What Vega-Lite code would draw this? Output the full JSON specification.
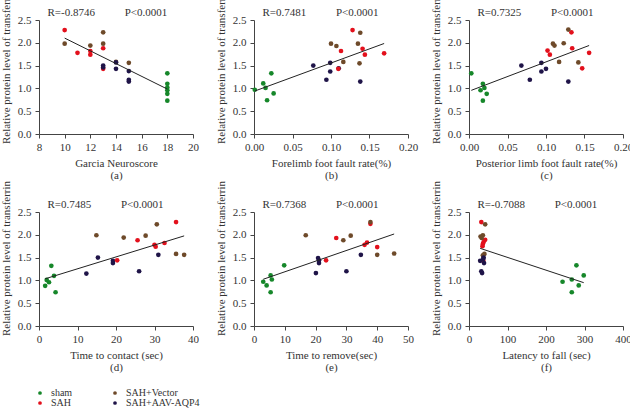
{
  "$schema": "https://vega.github.io/schema/vega-lite/v6.json",
  "padding": {"left": 0, "top": -12, "right": 0, "bottom": 0},
  "background": "white",
  "datasets": {
    "a": [
      {"g": "SAH", "x": 10, "y": 2.28}, {"g": "SAH", "x": 11, "y": 1.78}, {"g": "SAH", "x": 12, "y": 1.82}, {"g": "SAH", "x": 12, "y": 1.74}, {"g": "SAH", "x": 13, "y": 1.88}, {"g": "SAH", "x": 13, "y": 1.43},
      {"g": "SAH+Vector", "x": 10, "y": 1.98}, {"g": "SAH+Vector", "x": 12, "y": 1.94}, {"g": "SAH+Vector", "x": 13, "y": 2.23}, {"g": "SAH+Vector", "x": 13, "y": 1.98}, {"g": "SAH+Vector", "x": 14, "y": 1.58}, {"g": "SAH+Vector", "x": 15, "y": 1.56},
      {"g": "SAH+AAV-AQP4", "x": 13, "y": 1.50}, {"g": "SAH+AAV-AQP4", "x": 13, "y": 1.46}, {"g": "SAH+AAV-AQP4", "x": 14, "y": 1.57}, {"g": "SAH+AAV-AQP4", "x": 14, "y": 1.43}, {"g": "SAH+AAV-AQP4", "x": 15, "y": 1.38}, {"g": "SAH+AAV-AQP4", "x": 15, "y": 1.19}, {"g": "SAH+AAV-AQP4", "x": 15, "y": 1.15},
      {"g": "sham", "x": 18, "y": 1.33}, {"g": "sham", "x": 18, "y": 1.10}, {"g": "sham", "x": 18, "y": 1.02}, {"g": "sham", "x": 18, "y": 0.96}, {"g": "sham", "x": 18, "y": 0.88}, {"g": "sham", "x": 18, "y": 0.73}
    ],
    "b": [
      {"g": "sham", "x": 0.001, "y": 0.97}, {"g": "sham", "x": 0.012, "y": 1.11}, {"g": "sham", "x": 0.015, "y": 1.01}, {"g": "sham", "x": 0.017, "y": 0.74}, {"g": "sham", "x": 0.0225, "y": 1.33}, {"g": "sham", "x": 0.0255, "y": 0.89},
      {"g": "SAH+AAV-AQP4", "x": 0.077, "y": 1.50}, {"g": "SAH+AAV-AQP4", "x": 0.094, "y": 1.19}, {"g": "SAH+AAV-AQP4", "x": 0.099, "y": 1.56}, {"g": "SAH+AAV-AQP4", "x": 0.099, "y": 1.37}, {"g": "SAH+AAV-AQP4", "x": 0.110, "y": 1.44}, {"g": "SAH+AAV-AQP4", "x": 0.138, "y": 1.15},
      {"g": "SAH", "x": 0.128, "y": 2.28}, {"g": "SAH", "x": 0.113, "y": 1.82}, {"g": "SAH", "x": 0.1095, "y": 1.43}, {"g": "SAH", "x": 0.141, "y": 1.87}, {"g": "SAH", "x": 0.144, "y": 1.74}, {"g": "SAH", "x": 0.169, "y": 1.77},
      {"g": "SAH+Vector", "x": 0.100, "y": 1.98}, {"g": "SAH+Vector", "x": 0.107, "y": 1.93}, {"g": "SAH+Vector", "x": 0.116, "y": 1.58}, {"g": "SAH+Vector", "x": 0.135, "y": 1.98}, {"g": "SAH+Vector", "x": 0.138, "y": 2.22}, {"g": "SAH+Vector", "x": 0.137, "y": 1.55}
    ],
    "c": [
      {"g": "sham", "x": 0.003, "y": 1.33}, {"g": "sham", "x": 0.015, "y": 0.96}, {"g": "sham", "x": 0.018, "y": 1.10}, {"g": "sham", "x": 0.018, "y": 0.73}, {"g": "sham", "x": 0.020, "y": 1.01}, {"g": "sham", "x": 0.023, "y": 0.88},
      {"g": "SAH+AAV-AQP4", "x": 0.068, "y": 1.50}, {"g": "SAH+AAV-AQP4", "x": 0.079, "y": 1.19}, {"g": "SAH+AAV-AQP4", "x": 0.094, "y": 1.56}, {"g": "SAH+AAV-AQP4", "x": 0.094, "y": 1.37}, {"g": "SAH+AAV-AQP4", "x": 0.100, "y": 1.43}, {"g": "SAH+AAV-AQP4", "x": 0.129, "y": 1.15},
      {"g": "SAH", "x": 0.102, "y": 1.83}, {"g": "SAH", "x": 0.105, "y": 1.74}, {"g": "SAH", "x": 0.133, "y": 2.23}, {"g": "SAH", "x": 0.134, "y": 1.88}, {"g": "SAH", "x": 0.147, "y": 1.44}, {"g": "SAH", "x": 0.156, "y": 1.78},
      {"g": "SAH+Vector", "x": 0.129, "y": 2.29}, {"g": "SAH+Vector", "x": 0.109, "y": 1.98}, {"g": "SAH+Vector", "x": 0.111, "y": 1.94}, {"g": "SAH+Vector", "x": 0.123, "y": 1.99}, {"g": "SAH+Vector", "x": 0.117, "y": 1.58}, {"g": "SAH+Vector", "x": 0.142, "y": 1.57}
    ],
    "d": [
      {"g": "sham", "x": 1.6, "y": 0.88}, {"g": "sham", "x": 2.0, "y": 1.01}, {"g": "sham", "x": 2.6, "y": 0.96}, {"g": "sham", "x": 3.2, "y": 1.32}, {"g": "sham", "x": 3.9, "y": 1.10}, {"g": "sham", "x": 4.3, "y": 0.74},
      {"g": "SAH+AAV-AQP4", "x": 12.3, "y": 1.15}, {"g": "SAH+AAV-AQP4", "x": 15.3, "y": 1.50}, {"g": "SAH+AAV-AQP4", "x": 19.2, "y": 1.43}, {"g": "SAH+AAV-AQP4", "x": 19.2, "y": 1.38}, {"g": "SAH+AAV-AQP4", "x": 26.0, "y": 1.20}, {"g": "SAH+AAV-AQP4", "x": 31.0, "y": 1.56},
      {"g": "SAH", "x": 20.3, "y": 1.44}, {"g": "SAH", "x": 25.6, "y": 1.88}, {"g": "SAH", "x": 30.0, "y": 1.78}, {"g": "SAH", "x": 30.3, "y": 1.74}, {"g": "SAH", "x": 32.6, "y": 1.82}, {"g": "SAH", "x": 35.6, "y": 2.28},
      {"g": "SAH+Vector", "x": 14.9, "y": 1.99}, {"g": "SAH+Vector", "x": 22.0, "y": 1.94}, {"g": "SAH+Vector", "x": 27.7, "y": 1.98}, {"g": "SAH+Vector", "x": 30.6, "y": 2.23}, {"g": "SAH+Vector", "x": 35.6, "y": 1.58}, {"g": "SAH+Vector", "x": 37.7, "y": 1.56}
    ],
    "e": [
      {"g": "sham", "x": 3.0, "y": 0.97}, {"g": "sham", "x": 4.1, "y": 0.89}, {"g": "sham", "x": 5.4, "y": 1.11}, {"g": "sham", "x": 5.4, "y": 0.74}, {"g": "sham", "x": 5.8, "y": 1.02}, {"g": "sham", "x": 9.8, "y": 1.33},
      {"g": "SAH+AAV-AQP4", "x": 20.1, "y": 1.16}, {"g": "SAH+AAV-AQP4", "x": 20.8, "y": 1.49}, {"g": "SAH+AAV-AQP4", "x": 21.1, "y": 1.44}, {"g": "SAH+AAV-AQP4", "x": 21.1, "y": 1.38}, {"g": "SAH+AAV-AQP4", "x": 30.0, "y": 1.20}, {"g": "SAH+AAV-AQP4", "x": 34.7, "y": 1.56},
      {"g": "SAH", "x": 23.4, "y": 1.44}, {"g": "SAH", "x": 26.7, "y": 1.93}, {"g": "SAH", "x": 35.9, "y": 1.78}, {"g": "SAH", "x": 36.7, "y": 1.83}, {"g": "SAH", "x": 37.8, "y": 2.24}, {"g": "SAH", "x": 40.0, "y": 1.73},
      {"g": "SAH+Vector", "x": 16.8, "y": 1.99}, {"g": "SAH+Vector", "x": 29.0, "y": 1.88}, {"g": "SAH+Vector", "x": 31.4, "y": 1.98}, {"g": "SAH+Vector", "x": 37.8, "y": 2.28}, {"g": "SAH+Vector", "x": 40.0, "y": 1.56}, {"g": "SAH+Vector", "x": 45.5, "y": 1.59}
    ],
    "f": [
      {"g": "sham", "x": 243, "y": 0.97}, {"g": "sham", "x": 267, "y": 1.02}, {"g": "sham", "x": 267, "y": 0.74}, {"g": "sham", "x": 279, "y": 1.33}, {"g": "sham", "x": 285, "y": 0.89}, {"g": "sham", "x": 298, "y": 1.11},
      {"g": "SAH", "x": 32, "y": 2.28}, {"g": "SAH", "x": 42, "y": 1.89}, {"g": "SAH", "x": 38, "y": 1.84}, {"g": "SAH", "x": 36, "y": 1.80}, {"g": "SAH", "x": 35, "y": 1.75}, {"g": "SAH", "x": 37, "y": 1.43},
      {"g": "SAH+Vector", "x": 42, "y": 2.23}, {"g": "SAH+Vector", "x": 30, "y": 1.96}, {"g": "SAH+Vector", "x": 36, "y": 1.99}, {"g": "SAH+Vector", "x": 40, "y": 1.58}, {"g": "SAH+Vector", "x": 36, "y": 1.55}, {"g": "SAH+Vector", "x": 33, "y": 1.93},
      {"g": "SAH+AAV-AQP4", "x": 38, "y": 1.50}, {"g": "SAH+AAV-AQP4", "x": 29, "y": 1.43}, {"g": "SAH+AAV-AQP4", "x": 39, "y": 1.38}, {"g": "SAH+AAV-AQP4", "x": 32, "y": 1.20}, {"g": "SAH+AAV-AQP4", "x": 34, "y": 1.16}, {"g": "SAH+AAV-AQP4", "x": 37, "y": 1.47}
    ]
  },
  "columns": 3,
  "bounds": "flush",
  "spacing": {"row": 78, "column": 61},
  "resolve": {"scale": {"color": "shared"}, "legend": {"color": "shared"}},
  "concat": [
    {
      "width": 154, "height": 114,
      "data": {"name": "a"},
      "resolve": {"axis": {"x": "independent"}},
      "layer": [
        {"mark": {"type": "circle", "size": 22, "opacity": 1},
         "encoding": {
           "x": {"field": "x", "type": "quantitative", "scale": {"domain": [8, 20], "nice": false, "zero": false}, "axis": {"values": [8, 10, 12, 14, 16, 18, 20], "title": ["Garcia Neuroscore", "(a)"]}},
           "y": {"field": "y", "type": "quantitative", "scale": {"domain": [0, 2.5], "nice": false}, "axis": {"values": [0, 0.5, 1, 1.5, 2, 2.5], "format": ".1f"}, "title": "Relative protein level of transferrin"},
           "color": {"field": "g", "type": "nominal", "scale": {"domain": ["sham", "SAH+Vector", "SAH", "SAH+AAV-AQP4"], "range": ["#16872a", "#6e4a2a", "#e3101c", "#1f1448"]}}
         }},
        {"transform": [{"regression": "y", "on": "x"}], "mark": {"type": "line", "color": "#222", "strokeWidth": 1},
         "encoding": {
           "x": {"field": "x", "type": "quantitative", "axis": {"orient": "top", "domain": false, "ticks": false, "labels": false, "title": "R=-0.8746\u2003\u2003\u2002\u2009P<0.0001", "titleAnchor": "start", "titleAlign": "left", "titleAngle": 0, "titleX": 8, "titleY": -5, "titleBaseline": "alphabetic"}},
           "y": {"field": "y", "type": "quantitative", "axis": {"values": [0, 0.5, 1, 1.5, 2, 2.5], "format": ".1f"}, "title": "Relative protein level of transferrin"}}}
      ]
    },
    {
      "width": 154, "height": 114,
      "data": {"name": "b"},
      "resolve": {"axis": {"x": "independent"}},
      "layer": [
        {"mark": {"type": "circle", "size": 22, "opacity": 1},
         "encoding": {
           "x": {"field": "x", "type": "quantitative", "scale": {"domain": [0, 0.2], "nice": false}, "axis": {"values": [0, 0.05, 0.1, 0.15, 0.2], "format": ".2f", "title": ["Forelimb foot fault rate(%)", "(b)"]}},
           "y": {"field": "y", "type": "quantitative", "scale": {"domain": [0, 2.5], "nice": false}, "axis": {"values": [0, 0.5, 1, 1.5, 2, 2.5], "format": ".1f"}, "title": "Relative protein level of transferrin"},
           "color": {"field": "g", "type": "nominal"}
         }},
        {"transform": [{"regression": "y", "on": "x"}], "mark": {"type": "line", "color": "#222", "strokeWidth": 1},
         "encoding": {
           "x": {"field": "x", "type": "quantitative", "axis": {"orient": "top", "domain": false, "ticks": false, "labels": false, "title": "R=0.7481\u2003\u2003\u2002\u2009P<0.0001", "titleAnchor": "start", "titleAlign": "left", "titleAngle": 0, "titleX": 8, "titleY": -5, "titleBaseline": "alphabetic"}},
           "y": {"field": "y", "type": "quantitative", "axis": {"values": [0, 0.5, 1, 1.5, 2, 2.5], "format": ".1f"}, "title": "Relative protein level of transferrin"}}}
      ]
    },
    {
      "width": 154, "height": 114,
      "data": {"name": "c"},
      "resolve": {"axis": {"x": "independent"}},
      "layer": [
        {"mark": {"type": "circle", "size": 22, "opacity": 1},
         "encoding": {
           "x": {"field": "x", "type": "quantitative", "scale": {"domain": [0, 0.2], "nice": false}, "axis": {"values": [0, 0.05, 0.1, 0.15, 0.2], "format": ".2f", "title": ["Posterior limb foot fault rate(%)", "(c)"]}},
           "y": {"field": "y", "type": "quantitative", "scale": {"domain": [0, 2.5], "nice": false}, "axis": {"values": [0, 0.5, 1, 1.5, 2, 2.5], "format": ".1f"}, "title": "Relative protein level of transferrin"},
           "color": {"field": "g", "type": "nominal"}
         }},
        {"transform": [{"regression": "y", "on": "x"}], "mark": {"type": "line", "color": "#222", "strokeWidth": 1},
         "encoding": {
           "x": {"field": "x", "type": "quantitative", "axis": {"orient": "top", "domain": false, "ticks": false, "labels": false, "title": "R=0.7325\u2003\u2003\u2002\u2009P<0.0001", "titleAnchor": "start", "titleAlign": "left", "titleAngle": 0, "titleX": 8, "titleY": -5, "titleBaseline": "alphabetic"}},
           "y": {"field": "y", "type": "quantitative", "axis": {"values": [0, 0.5, 1, 1.5, 2, 2.5], "format": ".1f"}, "title": "Relative protein level of transferrin"}}}
      ]
    },
    {
      "width": 154, "height": 114,
      "data": {"name": "d"},
      "resolve": {"axis": {"x": "independent"}},
      "layer": [
        {"mark": {"type": "circle", "size": 22, "opacity": 1},
         "encoding": {
           "x": {"field": "x", "type": "quantitative", "scale": {"domain": [0, 40], "nice": false}, "axis": {"values": [0, 10, 20, 30, 40], "title": ["Time to contact (sec)", "(d)"]}},
           "y": {"field": "y", "type": "quantitative", "scale": {"domain": [0, 2.5], "nice": false}, "axis": {"values": [0, 0.5, 1, 1.5, 2, 2.5], "format": ".1f"}, "title": "Relative protein level of transferrin"},
           "color": {"field": "g", "type": "nominal"}
         }},
        {"transform": [{"regression": "y", "on": "x"}], "mark": {"type": "line", "color": "#222", "strokeWidth": 1},
         "encoding": {
           "x": {"field": "x", "type": "quantitative", "axis": {"orient": "top", "domain": false, "ticks": false, "labels": false, "title": "R=0.7485\u2003\u2003\u2002\u2009P<0.0001", "titleAnchor": "start", "titleAlign": "left", "titleAngle": 0, "titleX": 8, "titleY": -5, "titleBaseline": "alphabetic"}},
           "y": {"field": "y", "type": "quantitative", "axis": {"values": [0, 0.5, 1, 1.5, 2, 2.5], "format": ".1f"}, "title": "Relative protein level of transferrin"}}}
      ]
    },
    {
      "width": 154, "height": 114,
      "data": {"name": "e"},
      "resolve": {"axis": {"x": "independent"}},
      "layer": [
        {"mark": {"type": "circle", "size": 22, "opacity": 1},
         "encoding": {
           "x": {"field": "x", "type": "quantitative", "scale": {"domain": [0, 50], "nice": false}, "axis": {"values": [0, 10, 20, 30, 40, 50], "title": ["Time to remove(sec)", "(e)"]}},
           "y": {"field": "y", "type": "quantitative", "scale": {"domain": [0, 2.5], "nice": false}, "axis": {"values": [0, 0.5, 1, 1.5, 2, 2.5], "format": ".1f"}, "title": "Relative protein level of transferrin"},
           "color": {"field": "g", "type": "nominal"}
         }},
        {"transform": [{"regression": "y", "on": "x"}], "mark": {"type": "line", "color": "#222", "strokeWidth": 1},
         "encoding": {
           "x": {"field": "x", "type": "quantitative", "axis": {"orient": "top", "domain": false, "ticks": false, "labels": false, "title": "R=0.7368\u2003\u2003\u2002\u2009P<0.0001", "titleAnchor": "start", "titleAlign": "left", "titleAngle": 0, "titleX": 8, "titleY": -5, "titleBaseline": "alphabetic"}},
           "y": {"field": "y", "type": "quantitative", "axis": {"values": [0, 0.5, 1, 1.5, 2, 2.5], "format": ".1f"}, "title": "Relative protein level of transferrin"}}}
      ]
    },
    {
      "width": 154, "height": 114,
      "data": {"name": "f"},
      "resolve": {"axis": {"x": "independent"}},
      "layer": [
        {"mark": {"type": "circle", "size": 22, "opacity": 1},
         "encoding": {
           "x": {"field": "x", "type": "quantitative", "scale": {"domain": [0, 400], "nice": false}, "axis": {"values": [0, 100, 200, 300, 400], "title": ["Latency to fall (sec)", "(f)"]}},
           "y": {"field": "y", "type": "quantitative", "scale": {"domain": [0, 2.5], "nice": false}, "axis": {"values": [0, 0.5, 1, 1.5, 2, 2.5], "format": ".1f"}, "title": "Relative protein level of transferrin"},
           "color": {"field": "g", "type": "nominal"}
         }},
        {"transform": [{"regression": "y", "on": "x"}], "mark": {"type": "line", "color": "#222", "strokeWidth": 1},
         "encoding": {
           "x": {"field": "x", "type": "quantitative", "axis": {"orient": "top", "domain": false, "ticks": false, "labels": false, "title": "R=-0.7088\u2003\u2003\u2002\u2009P<0.0001", "titleAnchor": "start", "titleAlign": "left", "titleAngle": 0, "titleX": 8, "titleY": -5, "titleBaseline": "alphabetic"}},
           "y": {"field": "y", "type": "quantitative", "axis": {"values": [0, 0.5, 1, 1.5, 2, 2.5], "format": ".1f"}, "title": "Relative protein level of transferrin"}}}
      ]
    }
  ],
  "config": {
    "font": "Liberation Serif",
    "view": {"stroke": null},
    "axis": {"grid": false, "domainColor": "#444", "tickColor": "#444", "labelColor": "#333", "titleColor": "#333", "labelFont": "Liberation Serif", "titleFont": "Liberation Serif", "labelFontSize": 11, "titleFontSize": 11, "titleFontWeight": "normal", "tickSize": 4, "labelPadding": 3, "titlePadding": 5, "titleLineHeight": 12.5, "labelOverlap": false, "labelBound": false, "labelFlush": false},
    "axisY": {"titlePadding": 6, "labelPadding": 4, "titleY": 46},
    "legend": {"orient": "none", "legendX": -4, "legendY": 368, "direction": "horizontal", "columns": 2, "title": null, "symbolType": "circle", "symbolSize": 14, "labelFont": "Liberation Serif", "labelFontSize": 10, "labelColor": "#333", "columnPadding": 37, "rowPadding": 0, "padding": 0, "labelOffset": 6}
  }
}
